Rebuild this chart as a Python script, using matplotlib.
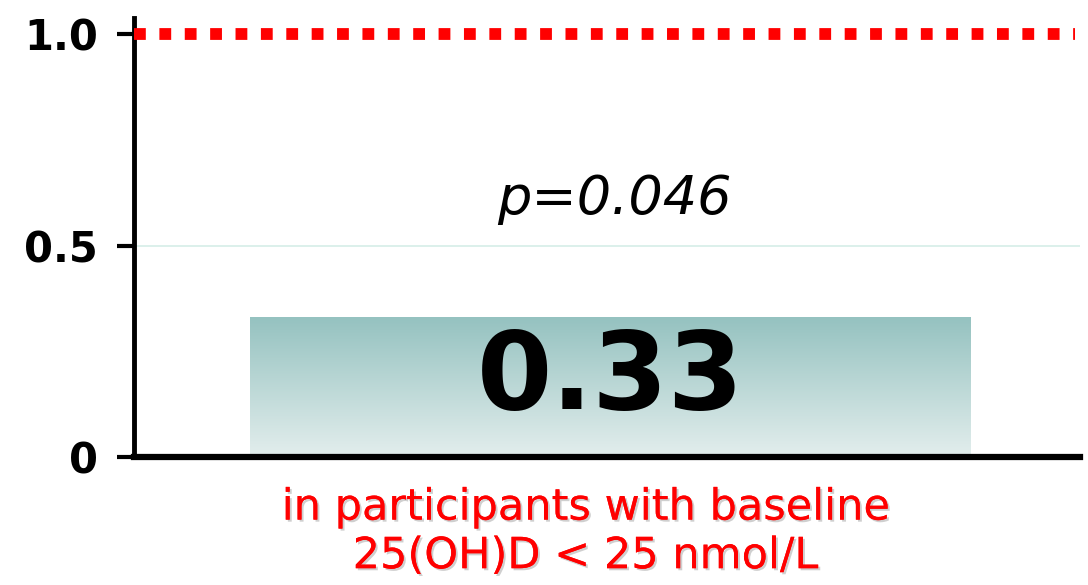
import numpy as np
import matplotlib
matplotlib.use("Agg")
import matplotlib.pyplot as plt
from matplotlib.colors import LinearSegmentedColormap
import matplotlib.patheffects as pe

# Data
categories = ["in participants with baseline\n25(OH)D < 25 nmol/L"]
values = [0.33]
value_labels = ["0.33"]
p_text = "p=0.046"
reference_level = 1.0
yticks = [0, 0.5, 1.0]
ytick_labels = ["0", "0.5", "1.0"]

plt.rcParams["font.family"] = ["DejaVu Sans"]

fig = plt.figure(figsize=(10.88, 5.85), dpi=100)
ax = fig.add_axes([134 / 1088, 1 - 457 / 585, (1080 - 134) / 1088, (457 - 18) / 585])
ax.set_xlim(0, 1)
ax.set_ylim(0, 1.038)

# light gridline
ax.axhline(0.5, color="#d6ede8", lw=1.2, zorder=0)

# bar with vertical gradient fill
x_center = 0.5037
width = 0.762
bars = ax.bar([x_center], values, width=width, color="none", edgecolor="none", zorder=2)
cmap = LinearSegmentedColormap.from_list("teal", ["#e3eeed", "#95c2c0"])
grad = np.linspace(0, 1, 256).reshape(-1, 1)
for b in bars:
    x0, y0 = b.get_x(), b.get_y()
    im = ax.imshow(grad, cmap=cmap, origin="lower", aspect="auto",
                   extent=[x0, x0 + b.get_width(), y0, y0 + b.get_height()], zorder=2)
    im.set_clip_path(b)
    ax.text(b.get_x() + b.get_width() / 2, 0.185, value_labels[0], ha="center", va="center",
            fontsize=78, fontweight="bold", color="black", zorder=3)

# reference line
ax.axhline(reference_level, color="#ff0000", lw=8.5, linestyle=(0, (1, 1.15)),
           dash_capstyle="butt", zorder=4, xmax=0.995)

ax.text(0.508, 0.61, p_text, ha="center", va="center", fontsize=39, style="italic")

# axes styling
for s in ["top", "right"]:
    ax.spines[s].set_visible(False)
ax.spines["left"].set_linewidth(3.5)
ax.spines["bottom"].set_linewidth(4.5)
ax.set_yticks(yticks)
ax.set_yticklabels(ytick_labels, fontsize=30, fontweight="bold")
ax.tick_params(axis="y", length=12, width=3, pad=14)
ax.set_xticks([])

ax.text(x_center - 0.027, -0.07, categories[0], ha="center", va="top", fontsize=31,
        color="#ff0000", linespacing=1.2, transform=ax.transData, clip_on=False,
        path_effects=[pe.withSimplePatchShadow(offset=(1.5, -1.5), shadow_rgbFace="#b0b0b0", alpha=0.6), pe.Normal()])

fig.savefig("out.png", dpi=100)
